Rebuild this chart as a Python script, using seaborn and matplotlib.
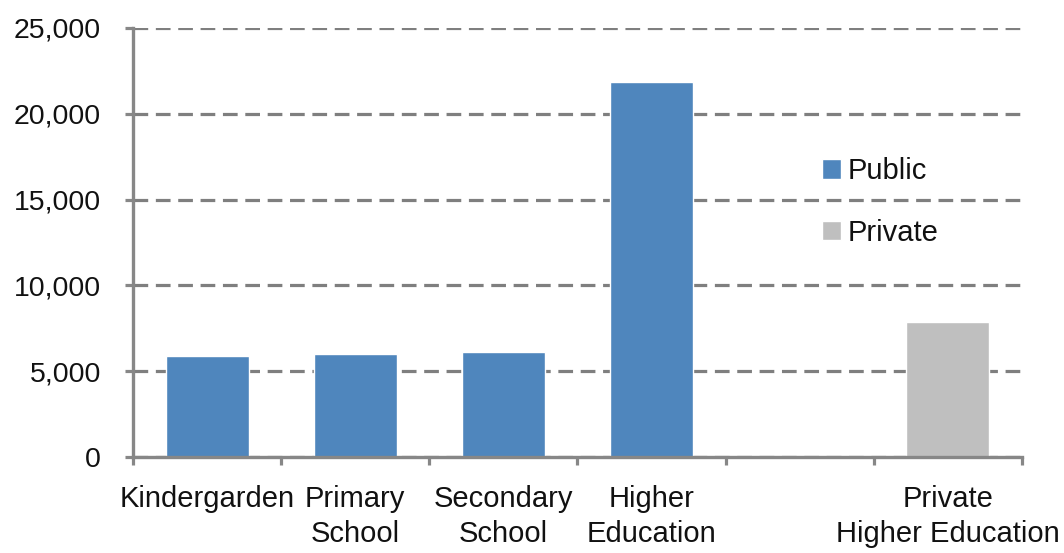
import pandas as pd
import seaborn as sns
import matplotlib.pyplot as plt
from matplotlib.ticker import FuncFormatter, MultipleLocator

# values
categories = ['Kindergarden', 'Primary\nSchool', 'Secondary\nSchool',
              'Higher\nEducation', 'Private\nHigher Education']
values = [5900, 5980, 6100, 21870, 7850]
sector = ['Public', 'Public', 'Public', 'Public', 'Private']
# the chart leaves one empty slot before the private bar
order = ['Kindergarden', 'Primary\nSchool', 'Secondary\nSchool',
         'Higher\nEducation', ' ', 'Private\nHigher Education']

df = pd.DataFrame({'level': categories, 'spend': values, 'sector': sector})

sns.set_theme(style='white')
plt.rcParams['font.family'] = ['Liberation Sans', 'DejaVu Sans']

grey = '#878787'
fig = plt.figure(figsize=(10.64, 5.53), dpi=100)
ax = fig.add_axes([0.125, 0.1736, 0.8355, 0.7758])

sns.barplot(data=df, x='level', y='spend', hue='sector', order=order,
            hue_order=['Public', 'Private'],
            palette={'Public': '#4F86BD', 'Private': '#BFBFBF'},
            dodge=False, width=0.56, saturation=1, ax=ax)

ax.set_ylim(0, 25000)
ax.set_xlim(-0.5, len(order) - 0.5)
ax.yaxis.set_major_locator(MultipleLocator(5000))
ax.yaxis.set_major_formatter(FuncFormatter(lambda v, p: f'{int(v):,}'))
ax.set_xlabel('')
ax.set_ylabel('')

# dashed grid
ax.set_axisbelow(True)
ax.yaxis.grid(True, color='#7f7f7f', linewidth=2.3, linestyle=(0, (4.6, 2.4)))
ax.xaxis.grid(False)

for side in ['top', 'right']:
    ax.spines[side].set_visible(False)
for side in ['left', 'bottom']:
    ax.spines[side].set_color(grey)
    ax.spines[side].set_linewidth(2.4)

ax.tick_params(axis='y', which='major', left=True, length=6, width=2.3,
               color=grey, pad=17, labelsize=20.5, labelcolor='#111111')
ax.tick_params(axis='x', which='major', bottom=False, pad=14,
               labelsize=21, labelcolor='#111111')
for lbl in ax.get_xticklabels():
    lbl.set_linespacing(1.35)
# x tick marks sit on the slot boundaries
ax.set_xticks([i - 0.5 for i in range(len(order) + 1)], minor=True)
ax.tick_params(axis='x', which='minor', bottom=True, length=6, width=2.3,
               color=grey)

leg = ax.legend(loc='upper left', bbox_to_anchor=(0.746, 0.76), frameon=False,
                fontsize=21, handlelength=0.65, handleheight=0.65,
                handletextpad=0.2, labelspacing=1.15)
for t in leg.get_texts():
    t.set_color('#111111')

plt.savefig('out.png', dpi=100)
